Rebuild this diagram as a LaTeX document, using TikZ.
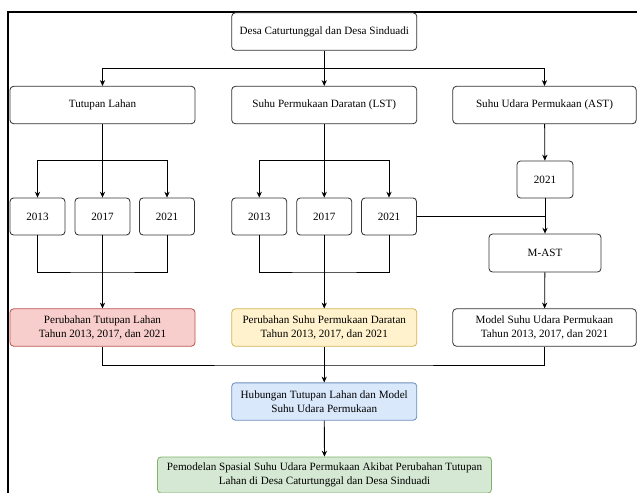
\documentclass[tikz,border=0pt]{standalone}
\usepackage{fontspec}
\setmainfont{Liberation Serif}
\usetikzlibrary{arrows.meta}
\definecolor{redfill}{HTML}{F8CECC}
\definecolor{redline}{HTML}{B85450}
\definecolor{yelfill}{HTML}{FFF2CC}
\definecolor{yelline}{HTML}{D6B656}
\definecolor{bluefill}{HTML}{DAE8FC}
\definecolor{blueline}{HTML}{6C8EBF}
\definecolor{grnfill}{HTML}{D5E8D4}
\definecolor{grnline}{HTML}{82B366}
\begin{document}
\begin{tikzpicture}[x=0.03cm, y=-0.03cm,
  box/.style={draw=black!80, line width=0.7pt, rounded corners=3pt, fill=white,
    minimum width=5.55cm, minimum height=1.12cm, inner sep=1pt, align=center,
    font=\fontsize{9.5}{11.5}\selectfont},
  yearbox/.style={box, minimum width=1.65cm, minimum height=1.11cm},
  arr/.style={-{Stealth[length=5pt,width=4.5pt]}, line width=0.7pt},
  ln/.style={line width=0.7pt}]
\useasboundingbox (0,0) rectangle (637,492);
\clip (0,0) rectangle (637,492);
\fill[white] (0,0) rectangle (637,492);
\draw[line width=1.8pt] (8,12) rectangle (680,540); % frame
% top
\node[box] (top) at (324.25,31.5) {Desa Caturtunggal dan Desa Sinduadi};
\node[box] (tl) at (102.5,105) {Tutupan Lahan};
\node[box] (lst) at (324.25,105) {Suhu Permukaan Daratan (LST)};
\node[box, minimum width=5.5cm] (ast) at (544.5,105) {Suhu Udara Permukaan (AST)};
\coordinate (j1) at (324.25,68);
\draw[arr] (top) -- (lst);
\draw[arr] (j1) -| (tl);
\draw[arr] (j1) -| (ast);
% tutupan lahan
\node[yearbox] (t13) at (37.5,216.5) {2013};
\node[yearbox] (t17) at (102.5,216.5) {2017};
\node[yearbox] (t21) at (167,216.5) {2021};
\coordinate (j2) at (102.5,160);
\coordinate (j3) at (102.5,272);
\draw[arr] (tl) -- (t17);
\draw[arr] (j2) -| (t13);
\draw[arr] (j2) -| (t21);
\draw[ln] (t13) |- (j3) -| (t21);
% LST
\node[yearbox] (l13) at (259.25,216.5) {2013};
\node[yearbox] (l17) at (324.25,216.5) {2017};
\node[yearbox] (l21) at (389,216.5) {2021};
\coordinate (j4) at (324.25,160);
\coordinate (j5) at (324.25,272);
\draw[arr] (lst) -- (l17);
\draw[arr] (j4) -| (l13);
\draw[arr] (j4) -| (l21);
\draw[ln] (l13) |- (j5) -| (l21);
% AST
\node[yearbox, minimum width=1.68cm] (a21) at (545,179.5) {2021};
\node[box, minimum width=3.36cm, minimum height=1.14cm] (mast) at (545,253) {M-AST};
\draw[arr] (ast) -- (a21);
\draw[arr] (a21) -- (mast);
\draw[ln] (l21.east) -- (l21.east -| a21.south);
% hasil
\node[box, fill=redfill, draw=redline] (ptl) at (102.5,327.5) {Perubahan Tutupan Lahan\\Tahun 2013, 2017, dan 2021};
\node[box, fill=yelfill, draw=yelline] (plst) at (324.25,327.5) {Perubahan Suhu Permukaan Daratan\\Tahun 2013, 2017, dan 2021};
\node[box, minimum width=5.5cm] (mod) at (544.5,327.5) {Model Suhu Udara Permukaan\\Tahun 2013, 2017, dan 2021};
\draw[arr] (t17) -- (ptl);
\draw[arr] (l17) -- (plst);
\draw[arr] (mast) -- (mod);
\coordinate (j6) at (324.25,365);
\draw[ln] (ptl) |- (j6) -| (mod);
% hubungan
\node[box, fill=bluefill, draw=blueline] (hub) at (324.25,401.5) {Hubungan Tutupan Lahan dan Model\\Suhu Udara Permukaan};
\node[box, fill=grnfill, draw=grnline, minimum width=10.02cm, minimum height=1.08cm] (pem) at (324.5,475) {Pemodelan Spasial Suhu Udara Permukaan Akibat Perubahan Tutupan\\Lahan di Desa Caturtunggal dan Desa Sinduadi};
\draw[arr] (plst) -- (hub);
\draw[arr] (hub) -- (pem);
\end{tikzpicture}
\end{document}
